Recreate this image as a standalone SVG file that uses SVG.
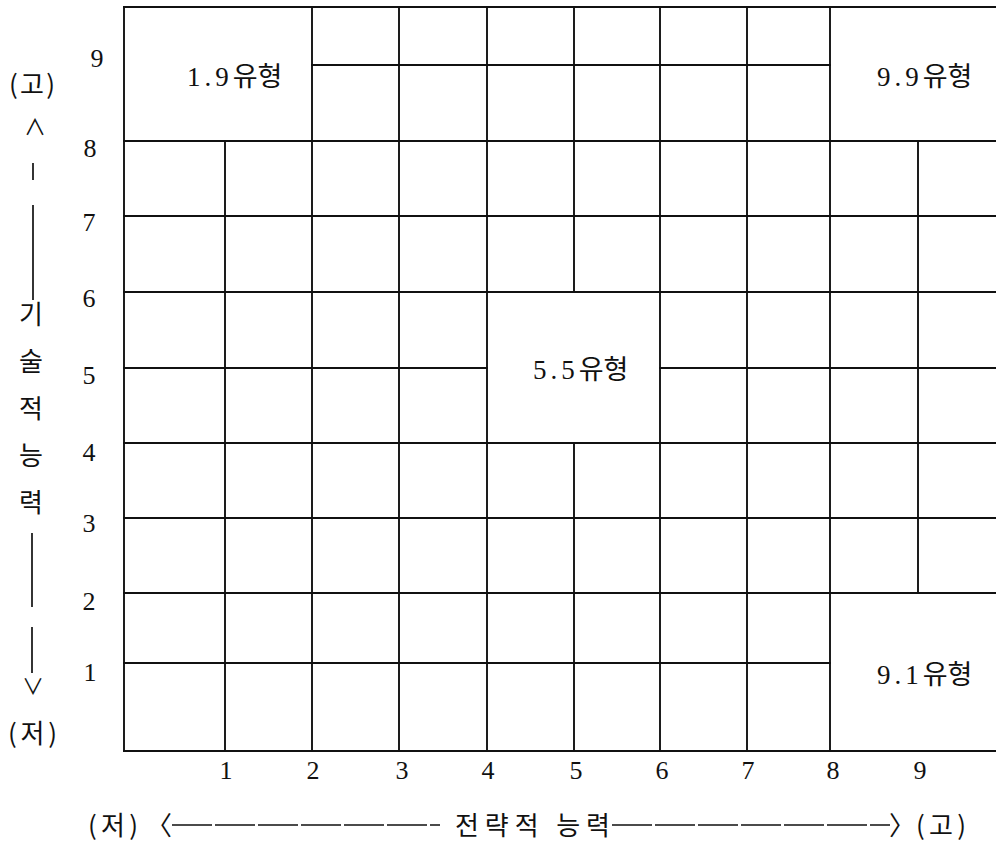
<svg xmlns="http://www.w3.org/2000/svg" width="996" height="841" viewBox="0 0 996 841">
<style>
.g{stroke:#111;stroke-width:1.9;fill:none;stroke-linecap:square}
.ax{stroke:#111;stroke-width:1.7;fill:none}
.t{font-family:'Liberation Serif','Noto Sans CJK KR',serif;font-size:26px;fill:#111}
.lb{font-family:'Liberation Serif','Noto Sans CJK KR',serif;font-size:27px;fill:#111}
.d{letter-spacing:4px}
.k{font-family:'Noto Sans CJK KR','Liberation Serif',serif;font-size:26px;fill:#111}
.n{text-anchor:middle}
</style>
<rect width="996" height="841" fill="#fff"/>
<g id="grid">
<line class="g" x1="124" y1="7" x2="996" y2="7"/>
<line class="g" x1="312" y1="65" x2="830" y2="65"/>
<line class="g" x1="124" y1="141" x2="996" y2="141"/>
<line class="g" x1="124" y1="216" x2="996" y2="216"/>
<line class="g" x1="124" y1="292" x2="996" y2="292"/>
<line class="g" x1="124" y1="368" x2="487" y2="368"/>
<line class="g" x1="660" y1="368" x2="996" y2="368"/>
<line class="g" x1="124" y1="443" x2="996" y2="443"/>
<line class="g" x1="124" y1="518" x2="996" y2="518"/>
<line class="g" x1="124" y1="593" x2="996" y2="593"/>
<line class="g" x1="124" y1="663" x2="830" y2="663"/>
<line class="g" x1="124" y1="751" x2="996" y2="751"/>
<line class="g" x1="124" y1="7" x2="124" y2="751"/>
<line class="g" x1="225" y1="141" x2="225" y2="751"/>
<line class="g" x1="312" y1="7" x2="312" y2="751"/>
<line class="g" x1="399" y1="7" x2="399" y2="751"/>
<line class="g" x1="487" y1="7" x2="487" y2="751"/>
<line class="g" x1="574" y1="7" x2="574" y2="292"/>
<line class="g" x1="574" y1="443" x2="574" y2="751"/>
<line class="g" x1="660" y1="7" x2="660" y2="751"/>
<line class="g" x1="747" y1="7" x2="747" y2="751"/>
<line class="g" x1="830" y1="7" x2="830" y2="751"/>
<line class="g" x1="918" y1="141" x2="918" y2="593"/>
</g>
<g id="type-1-9"><text class="lb" x="187" y="86"><tspan class="d">1.9</tspan>유형</text></g>
<g id="type-9-9"><text class="lb" x="877" y="86"><tspan class="d">9.9</tspan>유형</text></g>
<g id="type-5-5"><text class="lb" x="533" y="379"><tspan class="d">5.5</tspan>유형</text></g>
<g id="type-9-1"><text class="lb" x="877" y="684"><tspan class="d">9.1</tspan>유형</text></g>
<g id="y-ticks">
<text class="t n" x="97" y="67">9</text>
<text class="t n" x="90" y="157">8</text>
<text class="t n" x="89" y="231">7</text>
<text class="t n" x="89" y="307">6</text>
<text class="t n" x="89" y="384">5</text>
<text class="t n" x="89" y="461">4</text>
<text class="t n" x="89" y="532">3</text>
<text class="t n" x="89" y="610">2</text>
<text class="t n" x="90" y="681">1</text>
</g>
<g id="x-ticks">
<text class="t n" x="226" y="779">1</text>
<text class="t n" x="313" y="779">2</text>
<text class="t n" x="402" y="779">3</text>
<text class="t n" x="488" y="779">4</text>
<text class="t n" x="576" y="779">5</text>
<text class="t n" x="662" y="779">6</text>
<text class="t n" x="748" y="779">7</text>
<text class="t n" x="833" y="779">8</text>
<text class="t n" x="920" y="779">9</text>
</g>
<g id="y-axis">
<text class="k" x="9" y="94" textLength="46" lengthAdjust="spacing">(고)</text>
<text class="k n" x="35" y="135" style="font-size:22px">∧</text>
<line class="ax" x1="33" y1="163" x2="33" y2="180"/>
<line class="ax" x1="33" y1="205" x2="33" y2="300"/>
<text class="k n" x="31" y="324">기</text>
<text class="k n" x="31" y="371">술</text>
<text class="k n" x="31" y="418">적</text>
<text class="k n" x="31" y="465">능</text>
<text class="k n" x="31" y="512">력</text>
<line class="ax" x1="32" y1="533" x2="32" y2="607"/>
<line class="ax" x1="32" y1="627" x2="32" y2="673"/>
<text class="k n" x="33" y="694" style="font-size:22px">∨</text>
<text class="k" x="8" y="743" textLength="49" lengthAdjust="spacing">(저)</text>
</g>
<g id="x-axis">
<text class="k" x="88" y="835" textLength="50" lengthAdjust="spacing">(저)</text>
<text class="k" x="146" y="835">〈</text>
<line class="ax" x1="172" y1="825" x2="440" y2="825" stroke-dasharray="40 3"/>
<text class="k" x="455" y="835" textLength="155" lengthAdjust="spacing">전략적 능력</text>
<line class="ax" x1="612" y1="825" x2="890" y2="825" stroke-dasharray="40 3"/>
<text class="k" x="889" y="835">〉</text>
<text class="k" x="916" y="835" textLength="50" lengthAdjust="spacing">(고)</text>
</g>
</svg>
